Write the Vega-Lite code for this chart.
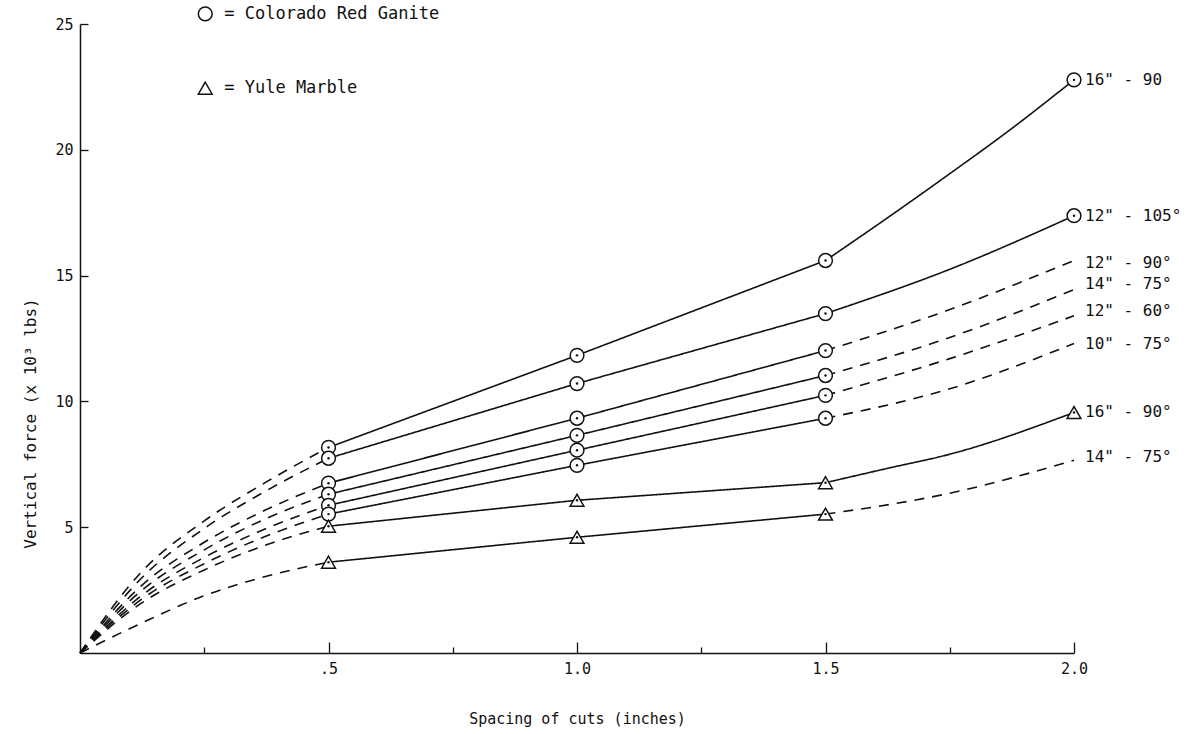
{
  "$schema": "https://vega.github.io/schema/vega-lite/v6.json",
  "width": 994,
  "height": 629,
  "autosize": {"type": "none"},
  "padding": {"left": 80, "top": 24, "right": 120, "bottom": 81},
  "background": "white",
  "config": {
    "view": {"stroke": null},
    "font": "DejaVu Sans Mono",
    "axis": {
      "grid": false,
      "domainColor": "#111",
      "domainWidth": 1.5,
      "tickColor": "#111",
      "tickWidth": 1.3,
      "labelColor": "#111",
      "titleColor": "#111",
      "labelFont": "DejaVu Sans Mono",
      "titleFont": "DejaVu Sans Mono",
      "titleFontWeight": "normal",
      "labelFontSize": 15
    }
  },
  "datasets": {
    "lines": [
      {"id": "g1a", "seg": "curve", "style": "dashed", "x": 0, "y": 0},
      {"id": "g1a", "seg": "curve", "style": "dashed", "x": 0.125, "y": 3.25},
      {"id": "g1a", "seg": "curve", "style": "dashed", "x": 0.25, "y": 5.25},
      {"id": "g1a", "seg": "curve", "style": "dashed", "x": 0.375, "y": 6.8},
      {"id": "g1a", "seg": "curve", "style": "dashed", "x": 0.5, "y": 8.17},
      {"id": "g1b", "seg": "straight", "style": "solid", "x": 0.5, "y": 8.17},
      {"id": "g1b", "seg": "straight", "style": "solid", "x": 1, "y": 11.83},
      {"id": "g1b", "seg": "straight", "style": "solid", "x": 1.5, "y": 15.6},
      {"id": "g1c", "seg": "curve", "style": "solid", "x": 1.5, "y": 15.6},
      {"id": "g1c", "seg": "curve", "style": "solid", "x": 1.625, "y": 17.3},
      {"id": "g1c", "seg": "curve", "style": "solid", "x": 1.75, "y": 19.05},
      {"id": "g1c", "seg": "curve", "style": "solid", "x": 1.875, "y": 20.85},
      {"id": "g1c", "seg": "curve", "style": "solid", "x": 2, "y": 22.78},

      {"id": "g2a", "seg": "curve", "style": "dashed", "x": 0, "y": 0},
      {"id": "g2a", "seg": "curve", "style": "dashed", "x": 0.125, "y": 3.0},
      {"id": "g2a", "seg": "curve", "style": "dashed", "x": 0.25, "y": 4.95},
      {"id": "g2a", "seg": "curve", "style": "dashed", "x": 0.375, "y": 6.45},
      {"id": "g2a", "seg": "curve", "style": "dashed", "x": 0.5, "y": 7.74},
      {"id": "g2b", "seg": "straight", "style": "solid", "x": 0.5, "y": 7.74},
      {"id": "g2b", "seg": "straight", "style": "solid", "x": 1, "y": 10.71},
      {"id": "g2b", "seg": "straight", "style": "solid", "x": 1.5, "y": 13.49},
      {"id": "g2c", "seg": "curve", "style": "solid", "x": 1.5, "y": 13.49},
      {"id": "g2c", "seg": "curve", "style": "solid", "x": 1.75, "y": 15.25},
      {"id": "g2c", "seg": "curve", "style": "solid", "x": 2, "y": 17.38},

      {"id": "g3a", "seg": "curve", "style": "dashed", "x": 0, "y": 0},
      {"id": "g3a", "seg": "curve", "style": "dashed", "x": 0.125, "y": 2.7},
      {"id": "g3a", "seg": "curve", "style": "dashed", "x": 0.25, "y": 4.4},
      {"id": "g3a", "seg": "curve", "style": "dashed", "x": 0.375, "y": 5.7},
      {"id": "g3a", "seg": "curve", "style": "dashed", "x": 0.5, "y": 6.75},
      {"id": "g3b", "seg": "straight", "style": "solid", "x": 0.5, "y": 6.75},
      {"id": "g3b", "seg": "straight", "style": "solid", "x": 1, "y": 9.33},
      {"id": "g3b", "seg": "straight", "style": "solid", "x": 1.5, "y": 12.02},
      {"id": "g3c", "seg": "curve", "style": "dashed", "x": 1.5, "y": 12.02},
      {"id": "g3c", "seg": "curve", "style": "dashed", "x": 1.75, "y": 13.65},
      {"id": "g3c", "seg": "curve", "style": "dashed", "x": 2, "y": 15.6},

      {"id": "g4a", "seg": "curve", "style": "dashed", "x": 0, "y": 0},
      {"id": "g4a", "seg": "curve", "style": "dashed", "x": 0.125, "y": 2.5},
      {"id": "g4a", "seg": "curve", "style": "dashed", "x": 0.25, "y": 4.1},
      {"id": "g4a", "seg": "curve", "style": "dashed", "x": 0.375, "y": 5.35},
      {"id": "g4a", "seg": "curve", "style": "dashed", "x": 0.5, "y": 6.31},
      {"id": "g4b", "seg": "straight", "style": "solid", "x": 0.5, "y": 6.31},
      {"id": "g4b", "seg": "straight", "style": "solid", "x": 1, "y": 8.65},
      {"id": "g4b", "seg": "straight", "style": "solid", "x": 1.5, "y": 11.03},
      {"id": "g4c", "seg": "curve", "style": "dashed", "x": 1.5, "y": 11.03},
      {"id": "g4c", "seg": "curve", "style": "dashed", "x": 1.75, "y": 12.54},
      {"id": "g4c", "seg": "curve", "style": "dashed", "x": 2, "y": 14.44},

      {"id": "g5a", "seg": "curve", "style": "dashed", "x": 0, "y": 0},
      {"id": "g5a", "seg": "curve", "style": "dashed", "x": 0.125, "y": 2.3},
      {"id": "g5a", "seg": "curve", "style": "dashed", "x": 0.25, "y": 3.8},
      {"id": "g5a", "seg": "curve", "style": "dashed", "x": 0.375, "y": 4.95},
      {"id": "g5a", "seg": "curve", "style": "dashed", "x": 0.5, "y": 5.87},
      {"id": "g5b", "seg": "straight", "style": "solid", "x": 0.5, "y": 5.87},
      {"id": "g5b", "seg": "straight", "style": "solid", "x": 1, "y": 8.06},
      {"id": "g5b", "seg": "straight", "style": "solid", "x": 1.5, "y": 10.24},
      {"id": "g5c", "seg": "curve", "style": "dashed", "x": 1.5, "y": 10.24},
      {"id": "g5c", "seg": "curve", "style": "dashed", "x": 1.75, "y": 11.7},
      {"id": "g5c", "seg": "curve", "style": "dashed", "x": 2, "y": 13.4},

      {"id": "g6a", "seg": "curve", "style": "dashed", "x": 0, "y": 0},
      {"id": "g6a", "seg": "curve", "style": "dashed", "x": 0.125, "y": 2.15},
      {"id": "g6a", "seg": "curve", "style": "dashed", "x": 0.25, "y": 3.55},
      {"id": "g6a", "seg": "curve", "style": "dashed", "x": 0.375, "y": 4.65},
      {"id": "g6a", "seg": "curve", "style": "dashed", "x": 0.5, "y": 5.52},
      {"id": "g6b", "seg": "straight", "style": "solid", "x": 0.5, "y": 5.52},
      {"id": "g6b", "seg": "straight", "style": "solid", "x": 1, "y": 7.46},
      {"id": "g6b", "seg": "straight", "style": "solid", "x": 1.5, "y": 9.33},
      {"id": "g6c", "seg": "curve", "style": "dashed", "x": 1.5, "y": 9.33},
      {"id": "g6c", "seg": "curve", "style": "dashed", "x": 1.75, "y": 10.5},
      {"id": "g6c", "seg": "curve", "style": "dashed", "x": 2, "y": 12.3},

      {"id": "m1a", "seg": "curve", "style": "dashed", "x": 0, "y": 0},
      {"id": "m1a", "seg": "curve", "style": "dashed", "x": 0.125, "y": 2.0},
      {"id": "m1a", "seg": "curve", "style": "dashed", "x": 0.25, "y": 3.3},
      {"id": "m1a", "seg": "curve", "style": "dashed", "x": 0.375, "y": 4.3},
      {"id": "m1a", "seg": "curve", "style": "dashed", "x": 0.5, "y": 5.04},
      {"id": "m1b", "seg": "straight", "style": "solid", "x": 0.5, "y": 5.04},
      {"id": "m1b", "seg": "straight", "style": "solid", "x": 1, "y": 6.07},
      {"id": "m1b", "seg": "straight", "style": "solid", "x": 1.5, "y": 6.77},
      {"id": "m1c", "seg": "curve", "style": "solid", "x": 1.5, "y": 6.77},
      {"id": "m1c", "seg": "curve", "style": "solid", "x": 1.625, "y": 7.34},
      {"id": "m1c", "seg": "curve", "style": "solid", "x": 1.75, "y": 7.9},
      {"id": "m1c", "seg": "curve", "style": "solid", "x": 2, "y": 9.56},

      {"id": "m2a", "seg": "curve", "style": "dashed", "x": 0, "y": 0},
      {"id": "m2a", "seg": "curve", "style": "dashed", "x": 0.125, "y": 1.2},
      {"id": "m2a", "seg": "curve", "style": "dashed", "x": 0.25, "y": 2.28},
      {"id": "m2a", "seg": "curve", "style": "dashed", "x": 0.375, "y": 3.05},
      {"id": "m2a", "seg": "curve", "style": "dashed", "x": 0.5, "y": 3.61},
      {"id": "m2b", "seg": "straight", "style": "solid", "x": 0.5, "y": 3.61},
      {"id": "m2b", "seg": "straight", "style": "solid", "x": 1, "y": 4.6},
      {"id": "m2b", "seg": "straight", "style": "solid", "x": 1.5, "y": 5.52},
      {"id": "m2c", "seg": "curve", "style": "dashed", "x": 1.5, "y": 5.52},
      {"id": "m2c", "seg": "curve", "style": "dashed", "x": 1.75, "y": 6.35},
      {"id": "m2c", "seg": "curve", "style": "dashed", "x": 2, "y": 7.66}
    ],
    "markers": [
      {"material": "Colorado Red Ganite", "x": 0.5, "y": 8.17},
      {"material": "Colorado Red Ganite", "x": 1, "y": 11.83},
      {"material": "Colorado Red Ganite", "x": 1.5, "y": 15.6},
      {"material": "Colorado Red Ganite", "x": 2, "y": 22.78},
      {"material": "Colorado Red Ganite", "x": 0.5, "y": 7.74},
      {"material": "Colorado Red Ganite", "x": 1, "y": 10.71},
      {"material": "Colorado Red Ganite", "x": 1.5, "y": 13.49},
      {"material": "Colorado Red Ganite", "x": 2, "y": 17.38},
      {"material": "Colorado Red Ganite", "x": 0.5, "y": 6.75},
      {"material": "Colorado Red Ganite", "x": 1, "y": 9.33},
      {"material": "Colorado Red Ganite", "x": 1.5, "y": 12.02},
      {"material": "Colorado Red Ganite", "x": 0.5, "y": 6.31},
      {"material": "Colorado Red Ganite", "x": 1, "y": 8.65},
      {"material": "Colorado Red Ganite", "x": 1.5, "y": 11.03},
      {"material": "Colorado Red Ganite", "x": 0.5, "y": 5.87},
      {"material": "Colorado Red Ganite", "x": 1, "y": 8.06},
      {"material": "Colorado Red Ganite", "x": 1.5, "y": 10.24},
      {"material": "Colorado Red Ganite", "x": 0.5, "y": 5.52},
      {"material": "Colorado Red Ganite", "x": 1, "y": 7.46},
      {"material": "Colorado Red Ganite", "x": 1.5, "y": 9.33},
      {"material": "Yule Marble", "x": 0.5, "y": 5.04},
      {"material": "Yule Marble", "x": 1, "y": 6.07},
      {"material": "Yule Marble", "x": 1.5, "y": 6.77},
      {"material": "Yule Marble", "x": 2, "y": 9.56},
      {"material": "Yule Marble", "x": 0.5, "y": 3.61},
      {"material": "Yule Marble", "x": 1, "y": 4.6},
      {"material": "Yule Marble", "x": 1.5, "y": 5.52}
    ],
    "key": [
      {"material": "Colorado Red Ganite", "x": 0.252, "y": 25.4, "text": "= Colorado Red Ganite"},
      {"material": "Yule Marble", "x": 0.252, "y": 22.45, "text": "= Yule Marble"}
    ],
    "labels": [
      {"x": 2, "y": 22.78, "label": "16\" - 90"},
      {"x": 2, "y": 17.38, "label": "12\" - 105°"},
      {"x": 2, "y": 15.5, "label": "12\" - 90°"},
      {"x": 2, "y": 14.68, "label": "14\" - 75°"},
      {"x": 2, "y": 13.6, "label": "12\" - 60°"},
      {"x": 2, "y": 12.3, "label": "10\" - 75°"},
      {"x": 2, "y": 9.56, "label": "16\" - 90°"},
      {"x": 2, "y": 7.8, "label": "14\" - 75°"}
    ]
  },
  "layer": [
    {
      "data": {"name": "lines"},
      "transform": [{"filter": "datum.seg == 'straight'"}],
      "mark": {"type": "line", "interpolate": "linear", "color": "#111", "strokeWidth": 1.6},
      "encoding": {
        "x": {
          "field": "x", "type": "quantitative",
          "scale": {"domain": [0, 2], "nice": false, "zero": true},
          "axis": {
            "title": "Spacing of cuts (inches)",
            "values": [0.25, 0.5, 0.75, 1, 1.25, 1.5, 1.75, 2],
            "labelExpr": "datum.value == 0.5 ? '.5' : (datum.value % 0.5 == 0 ? format(datum.value, '.1f') : '')",
            "tickSize": {"condition": {"test": "datum.value % 0.5 == 0", "value": -11}, "value": -6},
            "labelPadding": 19,
            "labelFlush": false,
            "labelOverlap": false,
            "titleFontSize": 15,
            "titleX": 497,
            "titleY": 65,
            "titleBaseline": "middle"
          }
        },
        "y": {
          "field": "y", "type": "quantitative",
          "scale": {"domain": [0, 25], "nice": false},
          "axis": {
            "title": "Vertical force (x 10³ lbs)",
            "values": [5, 10, 15, 20, 25],
            "tickSize": -8,
            "labelPadding": 15,
            "titleFontSize": 16,
            "titleX": -50,
            "titleY": 399,
            "titleAngle": -90,
            "titleAlign": "center",
            "titleBaseline": "middle"
          }
        },
        "detail": {"field": "id"},
        "strokeDash": {
          "field": "style", "type": "nominal",
          "scale": {"domain": ["solid", "dashed"], "range": [[1, 0], [10, 8]]},
          "legend": null
        }
      }
    },
    {
      "data": {"name": "lines"},
      "transform": [{"filter": "datum.seg == 'curve'"}],
      "mark": {"type": "line", "interpolate": "monotone", "color": "#111", "strokeWidth": 1.6},
      "encoding": {
        "x": {"field": "x", "type": "quantitative"},
        "y": {"field": "y", "type": "quantitative"},
        "detail": {"field": "id"},
        "strokeDash": {"field": "style", "type": "nominal", "legend": null}
      }
    },
    {
      "data": {"name": "markers"},
      "mark": {"type": "point", "fill": "white", "stroke": "#111", "strokeWidth": 1.5, "opacity": 1, "size": 190},
      "encoding": {
        "x": {"field": "x", "type": "quantitative"},
        "y": {"field": "y", "type": "quantitative"},
        "shape": {
          "field": "material", "type": "nominal",
          "scale": {"domain": ["Colorado Red Ganite", "Yule Marble"], "range": ["circle", "triangle-up"]},
          "legend": null
        }
      }
    },
    {
      "data": {"name": "markers"},
      "mark": {"type": "point", "filled": true, "color": "#111", "size": 6, "opacity": 1},
      "encoding": {
        "x": {"field": "x", "type": "quantitative"},
        "y": {"field": "y", "type": "quantitative"}
      }
    },
    {
      "data": {"name": "key"},
      "mark": {"type": "point", "fill": "white", "stroke": "#111", "strokeWidth": 1.5, "opacity": 1, "size": 190},
      "encoding": {
        "x": {"field": "x", "type": "quantitative"},
        "y": {"field": "y", "type": "quantitative"},
        "shape": {"field": "material", "type": "nominal", "legend": null}
      }
    },
    {
      "data": {"name": "key"},
      "mark": {"type": "text", "align": "left", "baseline": "middle", "dx": 19, "fontSize": 17, "font": "DejaVu Sans Mono", "color": "#111"},
      "encoding": {
        "x": {"field": "x", "type": "quantitative"},
        "y": {"field": "y", "type": "quantitative"},
        "text": {"field": "text"}
      }
    },
    {
      "data": {"name": "labels"},
      "mark": {"type": "text", "align": "left", "baseline": "middle", "dx": 11, "fontSize": 16, "font": "DejaVu Sans Mono", "color": "#111"},
      "encoding": {
        "x": {"field": "x", "type": "quantitative"},
        "y": {"field": "y", "type": "quantitative"},
        "text": {"field": "label"}
      }
    }
  ]
}
